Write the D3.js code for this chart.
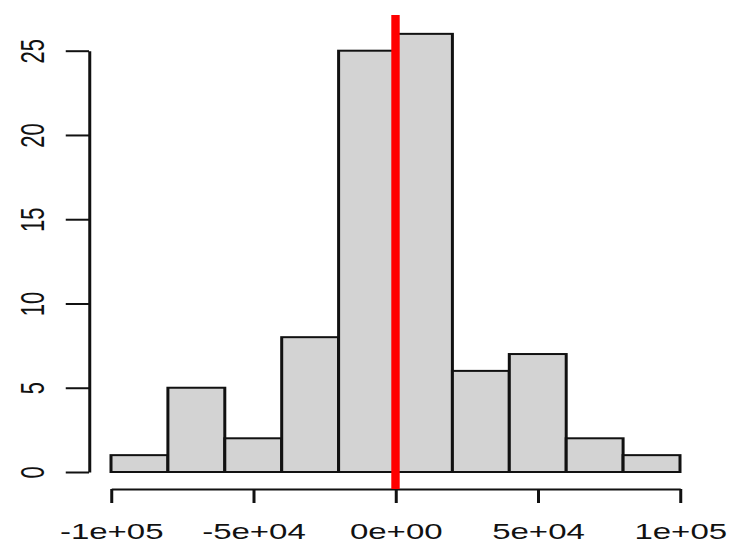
<!DOCTYPE html>
<html>
<head>
<meta charset="utf-8">
<script src="https://cdn.jsdelivr.net/npm/d3@7"></script>
<style>
  body { margin: 0; background: #fff; }
  svg { display: block; }
</style>
</head>
<body>
<div id="chart"></div>
<script>
// histogram data
var breaks = [-100000, -80000, -60000, -40000, -20000, 0, 20000, 40000, 60000, 80000, 100000];
var counts = [1, 5, 2, 8, 25, 26, 6, 7, 2, 1];
var xTicks = [-100000, -50000, 0, 50000, 100000];
var xTickLabels = ["-1e+05", "-5e+04", "0e+00", "5e+04", "1e+05"];
var yTicks = [0, 5, 10, 15, 20, 25];
var refLine = 0;

var svgWidth = 730, svgHeight = 549;
// the original plot looks stretched sideways, so draw in a narrower space and scale x
var sx = 1.5;

var svg = d3.select("#chart")
  .append("svg")
  .attr("width", svgWidth)
  .attr("height", svgHeight);

var g = svg.append("g")
  .attr("transform", `scale(${sx},1)`);

var xScale = d3.scaleLinear()
  .domain([-100000, 100000])
  .range([111 / sx, 680 / sx]);

var yScale = d3.scaleLinear()
  .domain([0, 25])
  .range([472, 50.7]);

// bars
var bins = counts.map((c, i) => ({x0: breaks[i], x1: breaks[i + 1], n: c}));
g.selectAll("rect.bar")
  .data(bins)
  .enter()
  .append("rect")
  .attr("class", "bar")
  .attr("x", d => xScale(d.x0))
  .attr("width", d => xScale(d.x1) - xScale(d.x0))
  .attr("y", d => yScale(d.n))
  .attr("height", d => yScale(0) - yScale(d.n))
  .attr("fill", "#d3d3d3")
  .attr("stroke", "#111")
  .attr("stroke-width", 2);

// x axis
var xAxis = d3.axisBottom(xScale)
  .tickValues(xTicks)
  .tickFormat((d, i) => xTickLabels[i])
  .tickSize(14)
  .tickSizeOuter(0);

var gx = g.append("g")
  .attr("transform", "translate(0,489)")
  .call(xAxis);

// y axis
var yAxis = d3.axisLeft(yScale)
  .tickValues(yTicks)
  .tickSize(15.5)
  .tickSizeOuter(0);

var gy = g.append("g")
  .attr("transform", `translate(${89 / sx},0)`)
  .call(yAxis);

[gx, gy].forEach(a => {
  a.select(".domain").attr("stroke", "#111").attr("stroke-width", 2);
  a.selectAll(".tick line").attr("stroke", "#111").attr("stroke-width", 2);
  a.selectAll("text")
    .attr("fill", "#111")
    .attr("font-family", "Liberation Sans, Arial, sans-serif")
    .attr("font-size", 22);
});

gx.selectAll("text")
  .attr("y", 50)
  .attr("dy", 0);

gy.selectAll("text")
  .attr("x", 0)
  .attr("dy", 0)
  .attr("text-anchor", "middle")
  .attr("transform", "translate(-30.3,0) rotate(-90)");

// red reference line at zero
g.append("line")
  .attr("x1", xScale(refLine))
  .attr("x2", xScale(refLine))
  .attr("y1", 15)
  .attr("y2", 489)
  .attr("stroke", "#ff0000")
  .attr("stroke-width", 5.6);
</script>
</body>
</html>
